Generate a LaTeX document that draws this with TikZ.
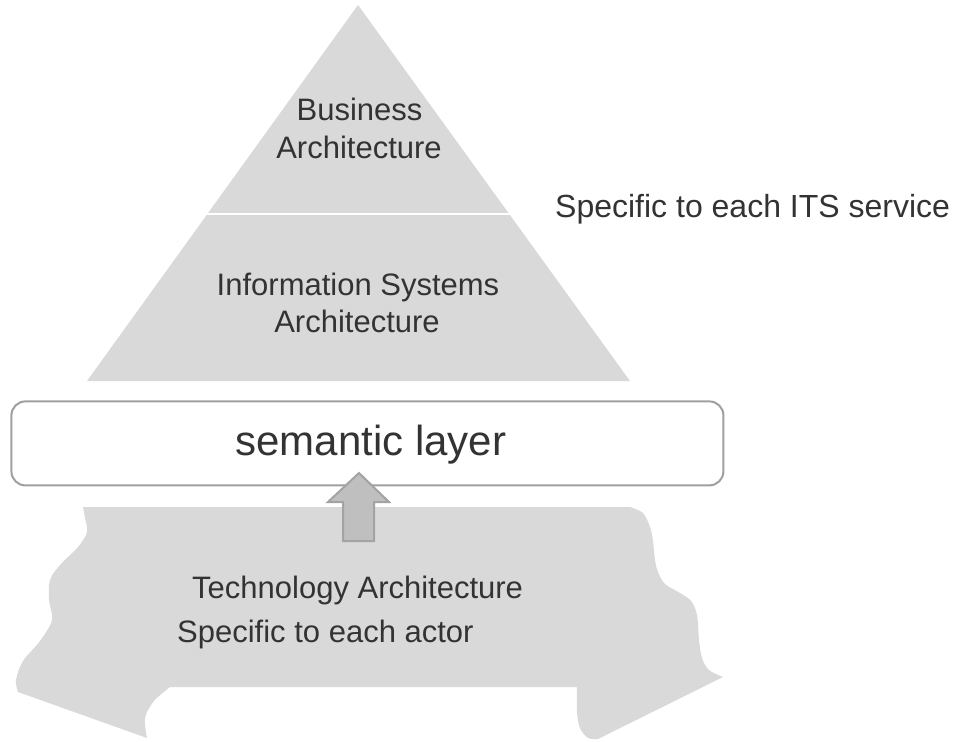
\documentclass[tikz,border=0pt]{standalone}
\usepackage{fontspec}
\setmainfont{Liberation Sans}
\definecolor{txt}{HTML}{333333}
\definecolor{layerfill}{HTML}{D9D9D9}
\definecolor{boxline}{HTML}{A29E9E}
\definecolor{arrowfill}{HTML}{BFBFBF}
\definecolor{arrowline}{HTML}{A6A2A2}
\begin{document}
\begin{tikzpicture}[x=1pt,y=-1pt,
  lbl/.style={font=\fontsize{31}{37}\selectfont, text=txt, inner sep=0pt, anchor=base},
  layerbox/.style={draw=boxline, line width=2pt, fill=white, rounded corners=14pt, minimum width=712pt, minimum height=84pt, inner sep=0pt},
  upblock/.style={fill=arrowfill, draw=arrowline, line width=2pt, line join=miter},
  layershape/.style={fill=layerfill}]
\useasboundingbox (0,0) rectangle (955,741);

% pyramid
\coordinate (apex) at (358,5);
\coordinate (bl) at (87,381);
\coordinate (br) at (630,381);
\fill[layershape] (apex) -- (br) -- (bl) -- cycle;
\coordinate (divl) at (203,214);
\coordinate (divr) at (512,214);
\draw[white, line width=2.5pt] (divl) -- (divr);

\node[lbl] (bus1) at (359.5,121) {Business};
\node[lbl] (bus2) at (359,158) {Architecture};
\node[lbl] (inf1) at (358,295) {Information Systems};
\node[lbl] (inf2) at (357,332) {Architecture};
\node[lbl, font=\fontsize{32}{38}\selectfont, anchor=base west] (its) at (555,217) {Specific to each ITS service};

% technology layer
\fill[layershape] (83,507) -- (630,507)
  -- plot[smooth, tension=0.55] coordinates {(630,507) (643,513) (650,527) (653,541) (655,560) (658,572) (665,584) (680,593) (691,601) (697,615) (699,640) (702,658) (709,670) (723,677)}
  -- (598,739)
  -- plot[smooth, tension=0.55] coordinates {(598,739) (588,738) (580,728) (577,712) (577,687)}
  -- (170,687)
  -- plot[smooth, tension=0.55] coordinates {(170,687) (154,701) (145,718) (147,738)}
  -- (18,692)
  -- plot[smooth, tension=0.55] coordinates {(18,692) (16,680) (23,661) (40,641) (52,620) (49,600) (50,580) (60,565) (78,547) (87,532) (85,518) (83,507)}
  -- cycle;

\node[lbl, anchor=base west] (tech) at (192,598) {Technology Architecture};
\node[lbl, anchor=base west] (actor) at (177,642) {Specific to each actor};

% semantic layer
\node[layerbox] (sem) at (367.4,443.4) {};
\node[lbl, font=\fontsize{42}{48}\selectfont] (semtext) at (371,455) {semantic layer};

% block arrow from technology layer up to semantic layer
\coordinate (tip) at (359,473);
\draw[upblock] (tip) -- (389,502) -- (374,502) -- (374,541) -- (343,541) -- (343,502) -- (328,502) -- cycle;
\end{tikzpicture}
\end{document}
